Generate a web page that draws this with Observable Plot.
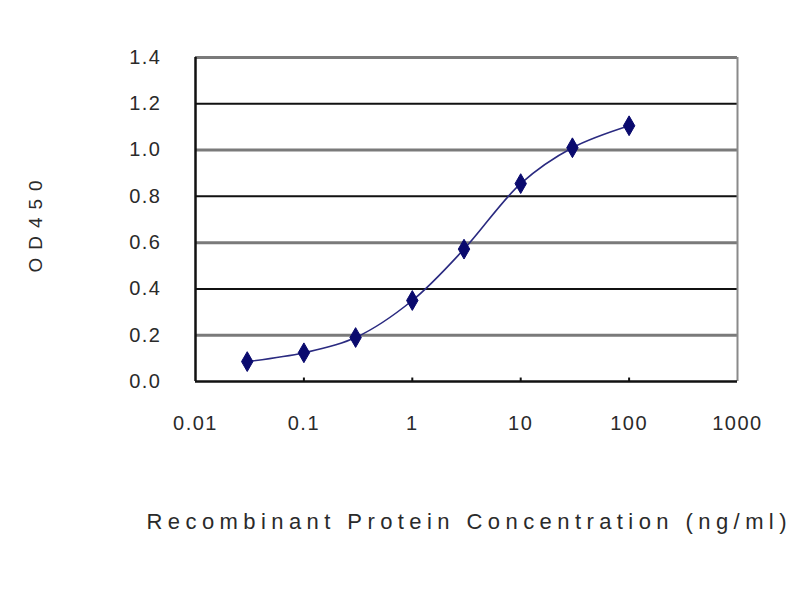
<!DOCTYPE html>
<html>
<head>
<meta charset="utf-8">
<script src="https://cdn.jsdelivr.net/npm/d3@7"></script>
<script src="https://cdn.jsdelivr.net/npm/@observablehq/plot@0.6"></script>
<style>
  html, body { margin: 0; padding: 0; background: #fff; }
  svg { display: block; }
</style>
</head>
<body>
<div id="chart"></div>
<script>
const concentrations = [0.03, 0.1, 0.3, 1, 3, 10, 30, 100];
const od450 = [0.086, 0.124, 0.19, 0.35, 0.572, 0.855, 1.01, 1.105];
const xTicks = [0.01, 0.1, 1, 10, 100, 1000];
const xTickLabels = ["0.01", "0.1", "1", "10", "100", "1000"];
const yTicks = [0, 0.2, 0.4, 0.6, 0.8, 1.0, 1.2, 1.4];
const gridValues = [0.2, 0.4, 0.6, 0.8, 1.0, 1.2, 1.4];
const innerTicks = [0.1, 1, 10, 100];
const xTitle = "Recombinant Protein Concentration (ng/ml)";
const yTitle = "OD450";

const data = concentrations.map((c, i) => ({conc: c, od: od450[i]}));
const font = "'Liberation Sans', Arial, sans-serif";
const xLabelOf = d => xTickLabels[xTicks.findIndex(t => Math.abs(t - d) < t * 1e-6)];

const chart = Plot.plot({
  width: 800,
  height: 600,
  marginLeft: 195,
  marginRight: 63,
  marginTop: 57,
  marginBottom: 219,
  style: {fontFamily: font, background: "#fff"},
  x: {type: "log", domain: [0.01, 1000], label: null, axis: null},
  y: {domain: [0, 1.4], label: null},
  marks: [
    Plot.ruleY(gridValues.filter((v, i) => i % 2 === 0), {stroke: "#7a7a7a", strokeWidth: 3}),
    Plot.ruleY(gridValues.filter((v, i) => i % 2 === 1), {stroke: "#111", strokeWidth: 2}),
    Plot.ruleX([1000], {stroke: "#8a8a8a", strokeWidth: 2}),
    Plot.ruleY([0], {stroke: "#111", strokeWidth: 2.5}),
    Plot.ruleX([0.01], {stroke: "#111", strokeWidth: 2.5}),
    Plot.ruleX(innerTicks, {x: d => d, y1: 0, y2: 0.015, stroke: "#111", strokeWidth: 2}),
    Plot.line(data, {x: "conc", y: "od", curve: "catmull-rom", stroke: "#2a2a80", strokeWidth: 1.6}),
    Plot.dot(data, {x: "conc", y: "od", symbol: "diamond", r: 6, fill: "#0a0a6e", stroke: "#0a0a6e", strokeWidth: 1}),
    Plot.text(xTicks, {x: d => d, frameAnchor: "bottom", dy: 48, text: xLabelOf, fontSize: 20, fill: "#2a2a2a"}),
    Plot.axisY(yTicks, {tickSize: 0, tickPadding: 34, tickFormat: d => d.toFixed(1), fontSize: 20, fill: "#2a2a2a", label: null}),
    Plot.text([xTitle], {frameAnchor: "bottom", dy: 147, fontSize: 22, fill: "#2a2a2a"}),
    Plot.text([yTitle], {frameAnchor: "left", dx: -160, dy: 53, rotate: -90, textAnchor: "start", fontSize: 19, fill: "#2a2a2a"})
  ]
});

document.getElementById("chart").appendChild(chart);

d3.select(chart).selectAll("text").each(function() {
  const t = d3.select(this);
  const s = t.text();
  if (s === xTitle) t.attr("textLength", 640).attr("lengthAdjust", "spacing");
  else if (s === yTitle) t.attr("textLength", 92).attr("lengthAdjust", "spacing");
  else t.style("letter-spacing", "1.5px");
});
</script>
</body>
</html>
